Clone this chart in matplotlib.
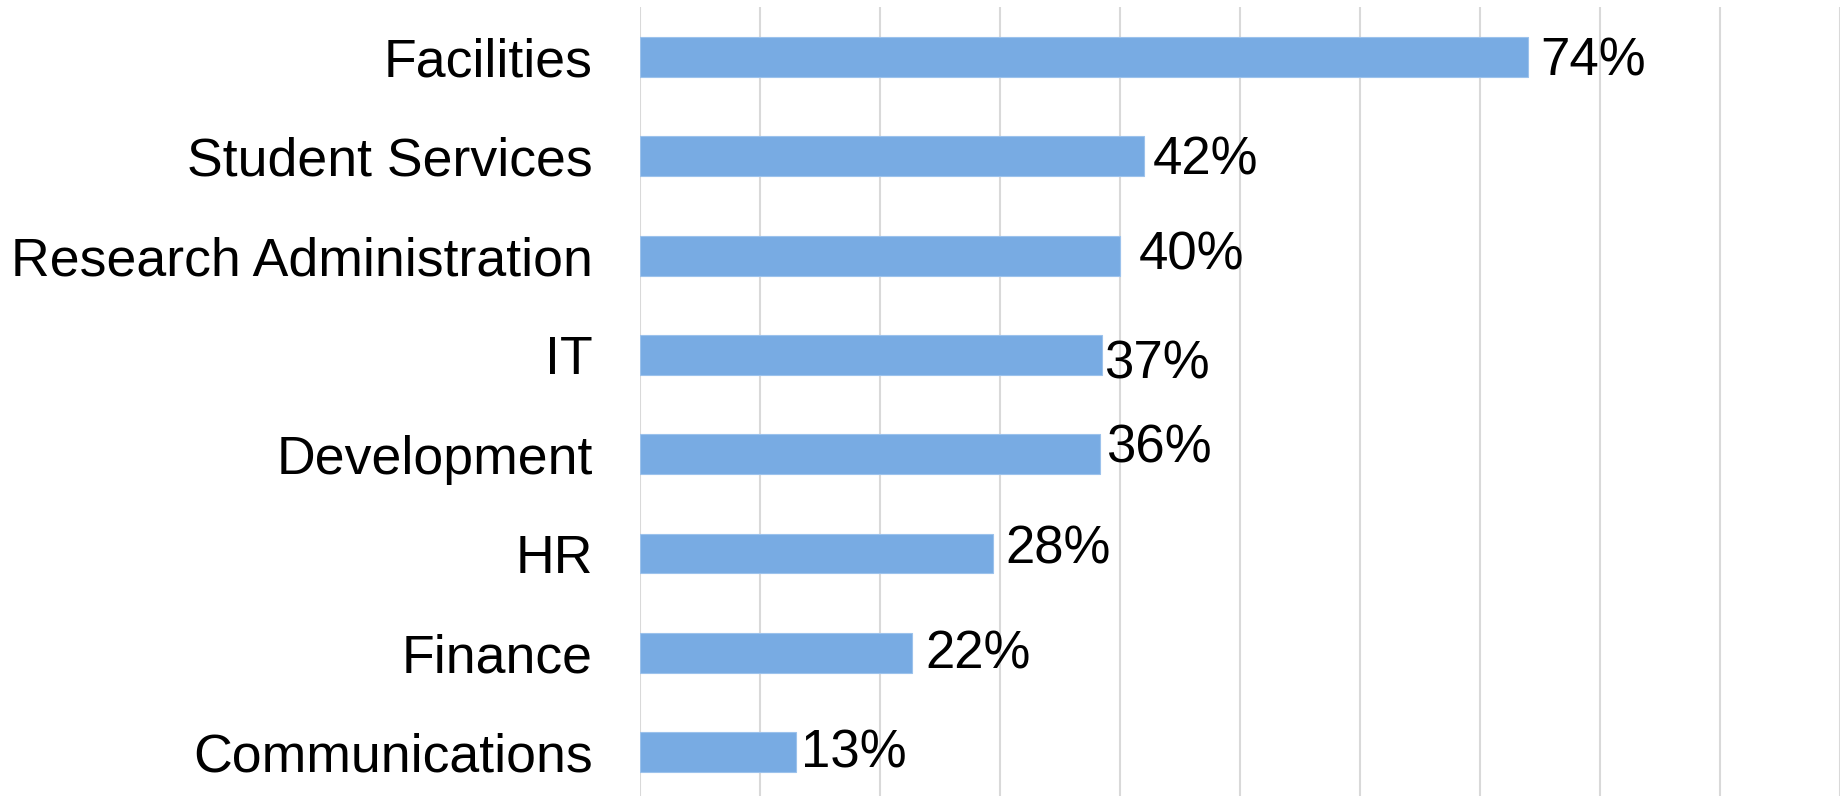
import matplotlib
matplotlib.use("Agg")
import matplotlib.pyplot as plt
import numpy as np

plt.rcParams['font.family'] = ['Liberation Sans', 'DejaVu Sans']

# Datos (de arriba hacia abajo)
categories = ["Facilities", "Student Services", "Research Administration", "IT",
              "Development", "HR", "Finance", "Communications"]
values = [0.74, 0.42, 0.40, 0.385, 0.383, 0.294, 0.227, 0.13]
value_labels = ["74%", "42%", "40%", "37%", "36%", "28%", "22%", "13%"]

# Pequeños desplazamientos de las etiquetas (px), como en el original
label_dx = [12, 9, 19, 2, 6, 13, 13, 5]
label_dy = [-4, -4, 0, -10, 6, 4, -2, -1]

fig = plt.figure(figsize=(18.43, 7.96), dpi=100)
ax = fig.add_axes([0.3473, -0.0073, 0.6511, 0.9980])

y = np.arange(len(categories))
ax.barh(y, values, height=0.40, color='#78ABE3', edgecolor='#9CC2EC', linewidth=0.8, zorder=3)

for yi, v, lab, dx, dy in zip(y, values, value_labels, label_dx, label_dy):
    ax.annotate(lab, (v, yi), xytext=(dx * 0.72, dy * 0.72), textcoords='offset points',
                ha='left', va='center', fontsize=38, color='black', zorder=4)

ax.set_xlim(0, 1.0)
ax.set_ylim(len(categories) - 0.5, -0.5)
ax.set_xticks(np.arange(0, 1.01, 0.1))
ax.set_xticklabels([])
ax.set_yticks(y)
ax.set_yticklabels(categories, fontsize=38.6)
ax.tick_params(axis='y', length=0, pad=34)
ax.tick_params(axis='x', length=0)
ax.grid(axis='x', color='#D9D9D9', linewidth=1.5, zorder=0)
for s in ax.spines.values():
    s.set_visible(False)

fig.savefig("out.png", dpi=100)
